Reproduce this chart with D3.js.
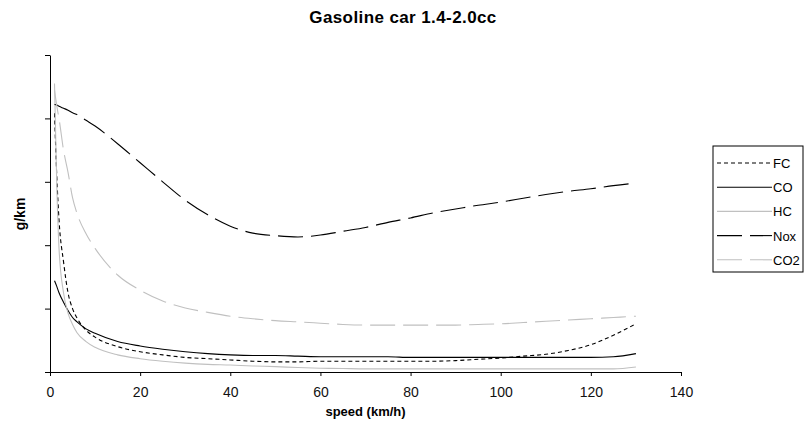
<!DOCTYPE html>
<html>
<head>
<meta charset="utf-8">
<script src="https://cdn.jsdelivr.net/npm/d3@7"></script>
<style>
  body { margin: 0; background: #fff; }
  text { font-family: "Liberation Sans", Arial, sans-serif; }
</style>
</head>
<body>
<div id="chart"></div>
<script>
// data (g/km, arbitrary units: y axis has no labels)
var speed = [1, 1.5, 2, 3, 4, 5, 6, 8, 10, 15, 20, 25, 30, 35, 40, 45, 50, 55, 60, 65, 70, 75, 80, 85, 90, 95, 100, 105, 110, 115, 120, 125, 130];
var fc  = [4.08, 3.10, 2.40, 1.74, 1.25, 1.00, 0.85, 0.66, 0.55, 0.40, 0.32, 0.27, 0.23, 0.21, 0.19, 0.17, 0.16, 0.16, 0.17, 0.17, 0.17, 0.17, 0.17, 0.17, 0.18, 0.20, 0.22, 0.25, 0.28, 0.34, 0.43, 0.58, 0.76];
var co  = [1.44, 1.35, 1.25, 1.10, 0.97, 0.86, 0.79, 0.68, 0.61, 0.48, 0.41, 0.36, 0.32, 0.29, 0.27, 0.26, 0.26, 0.25, 0.24, 0.24, 0.24, 0.24, 0.23, 0.23, 0.23, 0.23, 0.23, 0.23, 0.23, 0.23, 0.23, 0.24, 0.29];
var hc  = [4.55, 2.95, 1.95, 1.25, 0.93, 0.75, 0.62, 0.48, 0.39, 0.27, 0.21, 0.17, 0.14, 0.12, 0.11, 0.095, 0.085, 0.07, 0.06, 0.055, 0.05, 0.05, 0.05, 0.05, 0.05, 0.05, 0.05, 0.05, 0.05, 0.05, 0.05, 0.05, 0.08];
var nox = [4.22, 4.21, 4.19, 4.16, 4.13, 4.09, 4.06, 3.97, 3.88, 3.60, 3.30, 3.00, 2.71, 2.48, 2.30, 2.19, 2.15, 2.13, 2.16, 2.22, 2.28, 2.36, 2.43, 2.51, 2.57, 2.63, 2.68, 2.74, 2.80, 2.85, 2.89, 2.94, 2.98];
var co2 = [4.45, 4.20, 4.00, 3.50, 3.15, 2.75, 2.50, 2.18, 1.95, 1.53, 1.29, 1.12, 1.01, 0.94, 0.88, 0.84, 0.81, 0.79, 0.77, 0.75, 0.74, 0.74, 0.74, 0.74, 0.74, 0.75, 0.76, 0.78, 0.80, 0.82, 0.84, 0.86, 0.88];
var xTicks = [0, 20, 40, 60, 80, 100, 120, 140];
var yTicks = [0, 1, 2, 3, 4, 5];

var series = [
  {name: "FC",  values: fc,  color: "#000", dash: "4,3"},
  {name: "CO",  values: co,  color: "#000", dash: null},
  {name: "HC",  values: hc,  color: "#c0c0c0", dash: null},
  {name: "Nox", values: nox, color: "#000", dash: "25,8"},
  {name: "CO2", values: co2, color: "#c0c0c0", dash: "25,8"}
];

var W = 806, H = 435;

var svg = d3.select("#chart")
  .append("svg")
    .attr("width", W)
    .attr("height", H);

var x = d3.scaleLinear().domain([0, 140]).range([50, 681]);
var y = d3.scaleLinear().domain([0, 5]).range([372, 55]);

// axes
svg.append("g")
  .attr("transform", "translate(0,372)")
  .call(d3.axisBottom(x).tickValues(xTicks).tickSize(4).tickSizeOuter(0).tickPadding(11))
  .call(function(g) {
    g.select(".domain").attr("stroke", "#000");
    g.selectAll(".tick line").attr("stroke", "#000");
    g.selectAll("text").style("font-size", "14px").attr("fill", "#111");
  });

svg.append("g")
  .attr("transform", "translate(50,0)")
  .call(d3.axisLeft(y).tickValues(yTicks).tickSize(5).tickSizeOuter(0).tickFormat(""))
  .call(function(g) {
    g.select(".domain").attr("stroke", "#000");
    g.selectAll(".tick line").attr("stroke", "#000");
  });

// lines
var line = d3.line()
  .x(function(d, i) { return x(speed[i]); })
  .y(function(d) { return y(d); })
  .curve(d3.curveMonotoneX);

series.forEach(function(s) {
  svg.append("path")
    .datum(s.values)
    .attr("fill", "none")
    .attr("stroke", s.color)
    .attr("stroke-width", 1.1)
    .attr("stroke-dasharray", s.dash)
    .attr("d", line);
});

// titles
svg.append("text")
  .attr("x", 403).attr("y", 23)
  .attr("text-anchor", "middle")
  .style("font-size", "17px").style("font-weight", "bold")
  .style("letter-spacing", "0.4px")
  .text("Gasoline car 1.4-2.0cc");

svg.append("text")
  .attr("x", 365.5).attr("y", 416)
  .attr("text-anchor", "middle")
  .style("font-size", "13px").style("font-weight", "bold")
  .text("speed (km/h)");

svg.append("text")
  .attr("transform", "translate(25,214) rotate(-90)")
  .attr("text-anchor", "middle")
  .style("font-size", "14px").style("font-weight", "bold")
  .text("g/km");

// legend
var lg = svg.append("g").attr("transform", "translate(713,146)");
lg.append("rect")
  .attr("width", 90).attr("height", 126)
  .attr("fill", "#fff").attr("stroke", "#000");

var row = lg.selectAll(".row")
  .data(series).enter()
  .append("g")
  .attr("transform", function(d, i) { return "translate(0," + (17 + i * 24.2) + ")"; });

row.append("line")
  .attr("x1", 4).attr("x2", 59)
  .attr("stroke", function(d) { return d.color; })
  .attr("stroke-width", 1.1)
  .attr("stroke-dasharray", function(d) { return d.dash; });

row.append("text")
  .attr("x", 60).attr("y", 5)
  .style("font-size", "13px")
  .text(function(d) { return d.name; });
</script>
</body>
</html>
